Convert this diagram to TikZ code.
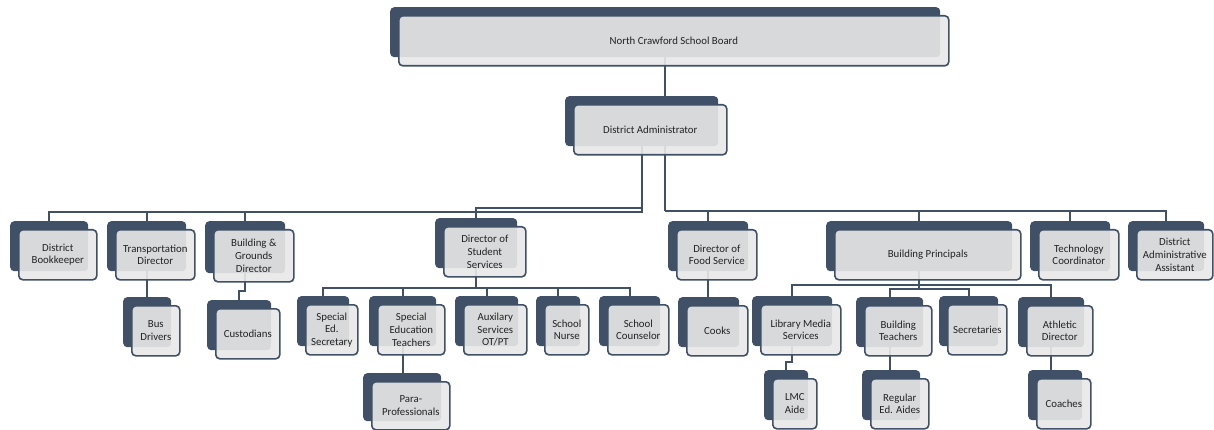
\documentclass[tikz,border=0pt]{standalone}
\usepackage{fontspec}
\setmainfont{Carlito}
\usetikzlibrary{calc,backgrounds}
\definecolor{slate}{RGB}{64,80,102}
\definecolor{card}{RGB}{232,232,232}
\definecolor{ink}{RGB}{35,35,35}
\newcommand{\orgbox}[5]{%
  \node[back, minimum width=#3, minimum height=#4] (#1) at (#2) {};
  \node[front, minimum width=#3, minimum height=#4] (#1f) at ([shift={(8,8)}]#1.north west) {#5};
}

\begin{document}
\begin{tikzpicture}[x=1pt, y=-1pt,
    back/.style={anchor=north west, fill=slate, rounded corners=4pt, inner sep=0pt},
    front/.style={anchor=north west, draw=slate, line width=1.6pt, fill=card, fill opacity=0.9, text opacity=1,
      rounded corners=4pt, align=center, text=ink, inner sep=1pt, font=\fontsize{10.8}{12.6}\selectfont},
    link/.style={draw=slate, line width=1.8pt}]
    \useasboundingbox (0,0) rectangle (1214,430);
    \orgbox{board}{390,7}{550}{50}{North Crawford School Board}
    \orgbox{admin}{565,96}{153}{50}{District Administrator}
    \orgbox{bookkeeper}{10,221}{78}{50}{District\\Bookkeeper}
    \orgbox{transport}{107,221}{79}{50}{Transportation\\Director}
    \orgbox{grounds}{205,221}{80}{52}{Building \&\\Grounds\\Director}
    \orgbox{student}{435,218}{82}{50}{Director of\\Student\\Services}
    \orgbox{food}{668,221}{80}{50}{Director of\\Food Service}
    \orgbox{principals}{826,221}{186}{50}{Building Principals}
    \orgbox{tech}{1030,221}{80}{50}{Technology\\Coordinator}
    \orgbox{assistant}{1128,221}{76}{50}{District\\Administrative\\Assistant}
    \orgbox{busdrivers}{123,297}{48}{50}{Bus\\Drivers}
    \orgbox{custodians}{207,300}{64}{50}{Custodians}
    \orgbox{secretary}{297,296}{52}{50}{Special\\Ed.\\Secretary}
    \orgbox{spedteachers}{369,296}{67}{50}{Special\\Education\\Teachers}
    \orgbox{auxilary}{455,296}{63}{50}{Auxilary\\Services\\OT/PT}
    \orgbox{nurse}{536,296}{44}{50}{School\\Nurse}
    \orgbox{counselor}{599,296}{61}{50}{School\\Counselor}
    \orgbox{cooks}{678,297}{61}{50}{Cooks}
    \orgbox{library}{752,296}{80}{50}{Library Media\\Services}
    \orgbox{teachers}{856,297}{67}{50}{Building\\Teachers}
    \orgbox{secretaries}{939,296}{59}{50}{Secretaries}
    \orgbox{athletic}{1018,297}{66}{50}{Athletic\\Director}
    \orgbox{para}{363,373}{78}{48}{Para-\\Professionals}
    \orgbox{lmc}{764,370}{44}{50}{LMC\\Aide}
    \orgbox{aides}{862,370}{58}{50}{Regular\\Ed. Aides}
    \orgbox{coaches}{1028,370}{54}{50}{Coaches}
    \coordinate (hubL) at (0,212);
    \coordinate (hubS) at (0,208);
    \coordinate (hubR) at (0,211);
    \coordinate (hubD) at (0,288);
    \coordinate (hubP) at (0,285);
    \coordinate (hubQ) at (0,289);
    \coordinate (jogG) at (0,291);
    \coordinate (jogM) at (0,362);
    \begin{scope}[on background layer]
        \draw[link] (board.south) -- (board.south |- hubR);
        \draw[link] (admin.south) -- (admin.south |- hubL) -| (bookkeeper.north);
        \draw[link] (admin.south) -- (admin.south |- hubL) -| (transport.north);
        \draw[link] (admin.south) -- (admin.south |- hubL) -| (grounds.north);
        \draw[link] (admin.south) -- (admin.south |- hubS) -| (student.north);
        \draw[link] (board.south |- hubR) -| (food.north);
        \draw[link] (board.south |- hubR) -| (principals.north);
        \draw[link] (board.south |- hubR) -| (tech.north);
        \draw[link] (board.south |- hubR) -| (assistant.north);
        \draw[link] (transport.south) -- (transport.south |- busdrivers.north);
        \draw[link] (grounds.south) -- (grounds.south |- jogG) -| (custodians.north);
        \draw[link] (student.south) -- (student.south |- hubD) -| (secretary.north);
        \draw[link] (student.south) -- (student.south |- hubD) -| (spedteachers.north);
        \draw[link] (student.south) -- (student.south |- hubD) -| (auxilary.north);
        \draw[link] (student.south) -- (student.south |- hubD) -| (nurse.north);
        \draw[link] (student.south) -- (student.south |- hubD) -| (counselor.north);
        \draw[link] (spedteachers.south) -- (spedteachers.south |- para.north);
        \draw[link] (food.south) -- (food.south |- cooks.north);
        \draw[link] (principals.south) -- (principals.south |- hubP) -| (library.north);
        \draw[link] (principals.south) -- (principals.south |- hubQ) -| (teachers.north);
        \draw[link] (principals.south) -- (principals.south |- hubQ) -| (secretaries.north);
        \draw[link] (principals.south) -- (principals.south |- hubP) -| (athletic.north);
        \draw[link] (library.south) -- (library.south |- jogM) -| (lmc.north);
        \draw[link] (teachers.south) -- (teachers.south |- aides.north);
        \draw[link] (athletic.south) -- (athletic.south |- coaches.north);
    \end{scope}
\end{tikzpicture}
\end{document}
